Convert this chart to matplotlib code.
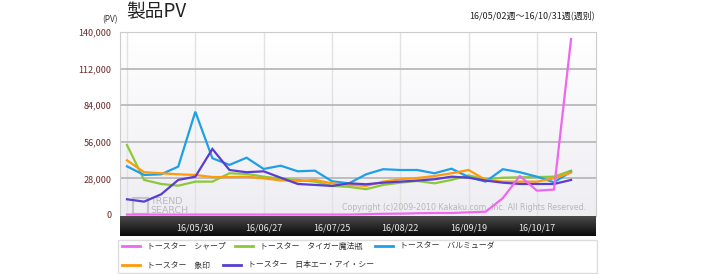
"""
製品PV: トースター5機種の週別PV推移 (16/05/02週〜16/10/31週)
"""
import matplotlib
matplotlib.use("Agg")
import matplotlib.pyplot as plt
import matplotlib.ticker as mticker
from matplotlib.lines import Line2D
from matplotlib.patches import Rectangle
import numpy as np

plt.rcParams["font.family"] = ["Noto Sans CJK JP", "DejaVu Sans"]

# ─── データ (週別, 27週) ─────────────────────────────────────────────
weeks = list(range(27))
date_ticks = [4, 8, 12, 16, 20, 24]
date_labels = ["16/05/30", "16/06/27", "16/07/25", "16/08/22", "16/09/19", "16/10/17"]

sharp = [300, 300, 300, 300, 300, 300, 300, 300, 300, 300, 300, 300, 300, 300,
         600, 900, 1000, 1300, 1500, 1500, 2000, 2500, 12800, 29800, 18600, 19400, 134600]
tiger = [53500, 26800, 23700, 22400, 25500, 25500, 31900, 31400, 29300, 27800, 26800,
         25500, 22200, 21500, 19700, 23000, 24700, 26000, 24200, 26800, 30300, 27300,
         28500, 28800, 29000, 29300, 33900]
balmuda = [37200, 30600, 31100, 37000, 79000, 43400, 38300, 43800, 35200, 37700, 33400,
           33900, 25800, 24200, 31100, 35000, 34400, 34400, 31900, 35400, 29000, 25500,
           35000, 32700, 29300, 25000, 33100]
zojirushi = [41800, 32700, 31900, 31100, 30600, 29000, 29000, 29300, 28000, 26500, 25800,
             26800, 24200, 23000, 22200, 25500, 27300, 28300, 29800, 31900, 34400, 26800,
             25500, 25500, 25500, 28000, 32400]
aisi = [12000, 10200, 15800, 26800, 29300, 50500, 34400, 32700, 33400, 28500, 23700,
        23000, 22200, 24200, 23500, 24700, 25500, 26300, 27300, 29300, 28500, 26300,
        24700, 23700, 23700, 23700, 26800]

series = [
    ("トースター シャープ", sharp, "#f066f0"),
    ("トースター タイガー魔法瓶", tiger, "#8cc83c"),
    ("トースター バルミューダ", balmuda, "#1ea0e8"),
    ("トースター 象印", zojirushi, "#ff9a0a"),
    ("トースター 日本エー・アイ・シー", aisi, "#5a3cd2"),
]

W, H = 715, 274
fig = plt.figure(figsize=(W / 100, H / 100), dpi=100)

def fx(px):
    return px / W

def fy(py):
    return 1 - py / H

# ─── メインのプロット領域 ─────────────────────────────────────────────
ax = fig.add_axes([fx(120), fy(216), fx(596 - 120), (216 - 32) / H])
ax.set_xlim(-0.41, 27.46)
ax.set_ylim(-800, 140000)

# 背景グラデーション
grad = np.linspace(0, 1, 100).reshape(-1, 1)
ax.imshow(grad, extent=[0, 1, 0, 1], transform=ax.transAxes, aspect="auto",
          cmap=matplotlib.colors.LinearSegmentedColormap.from_list("bg", ["#eeedf2", "#ffffff"]),
          origin="lower", zorder=0)

for x in range(0, 27, 4):
    ax.axvline(x, color="#e2e2e2", lw=1, zorder=1)
for yv in range(28000, 140001, 28000):
    ax.axhline(yv, color="#b4b4b4", lw=1.2, zorder=1)

for name, vals, col in series[1:]:
    ax.plot(weeks, vals, color=col, lw=1.6, zorder=3, solid_joinstyle="miter")
ax.plot(weeks, sharp, color=series[0][2], lw=1.6, zorder=4)

ax.set_yticks(range(0, 140001, 28000))
ax.yaxis.set_major_formatter(mticker.FuncFormatter(lambda v, _: f"{v:,.0f}"))
ax.tick_params(axis="y", length=0, pad=6, labelsize=6.5, labelcolor="#6a2a2a")
ax.set_xticks([])
for s in ["top", "right", "left"]:
    ax.spines[s].set_color("#cccccc")
ax.spines["bottom"].set_visible(False)

# 透かし
ax.add_patch(Rectangle((0.027, 0.01), 0.032, 0.09, transform=ax.transAxes,
                       fill=False, ec="#c4c4cc", lw=1.6, zorder=2))
ax.text(0.064, 0.005, "TREND\nSEARCH", transform=ax.transAxes, fontsize=6.8,
        color="#b8b8c0", family="DejaVu Sans", linespacing=0.95, zorder=2,
        ha="left", va="bottom")
ax.text(0.98, 0.02, "Copyright (c)2009-2010 Kakaku.com, Inc. All Rights Reserved.",
        transform=ax.transAxes, fontsize=5.7, color="#b8b8b8", ha="right",
        va="bottom", zorder=2, family="DejaVu Sans")

# ─── 日付帯 ─────────────────────────────────────────────────────────
bx = fig.add_axes([fx(120), fy(236), fx(596 - 120), 20 / H])
bx.set_xlim(ax.get_xlim())
bx.set_ylim(0, 1)
bx.imshow(grad, extent=[0, 1, 0, 1], transform=bx.transAxes, aspect="auto",
          cmap=matplotlib.colors.LinearSegmentedColormap.from_list("band", ["#0a0a0a", "#4a4a4a"]),
          origin="lower")
for t, lbl in zip(date_ticks, date_labels):
    bx.text(t, 0.42, lbl, ha="center", va="center", color="#e8e8e8", fontsize=6.5)
bx.axis("off")

# ─── 凡例 ───────────────────────────────────────────────────────────
fig.patches.append(Rectangle((fx(118), fy(273)), fx(597 - 118), (273 - 240) / H,
                             transform=fig.transFigure, fc="white", ec="#dddddd", lw=1))
legend_pos = [(122, 246), (235, 246), (375, 246), (122, 265), (223, 265)]
for (name, vals, col), (px, py) in zip(series, legend_pos):
    fig.lines.append(Line2D([fx(px), fx(px + 18)], [fy(py), fy(py)], color=col, lw=2,
                            transform=fig.transFigure))
    fig.text(fx(px + 25), fy(py), name.replace(" ", "　"), fontsize=5.7,
             color="#333333", va="center", ha="left")

# ─── タイトル類 ─────────────────────────────────────────────────────
fig.text(fx(126), fy(12), "製品PV", fontsize=13.5, color="#222222", va="center", ha="left")
fig.text(fx(118), fy(20), "(PV)", fontsize=6, color="#333333", va="center", ha="right")
fig.text(fx(595), fy(15), "16/05/02週～16/10/31週(週別)", fontsize=6.5,
         color="#222222", va="center", ha="right")

fig.savefig("out.png", dpi=100)
